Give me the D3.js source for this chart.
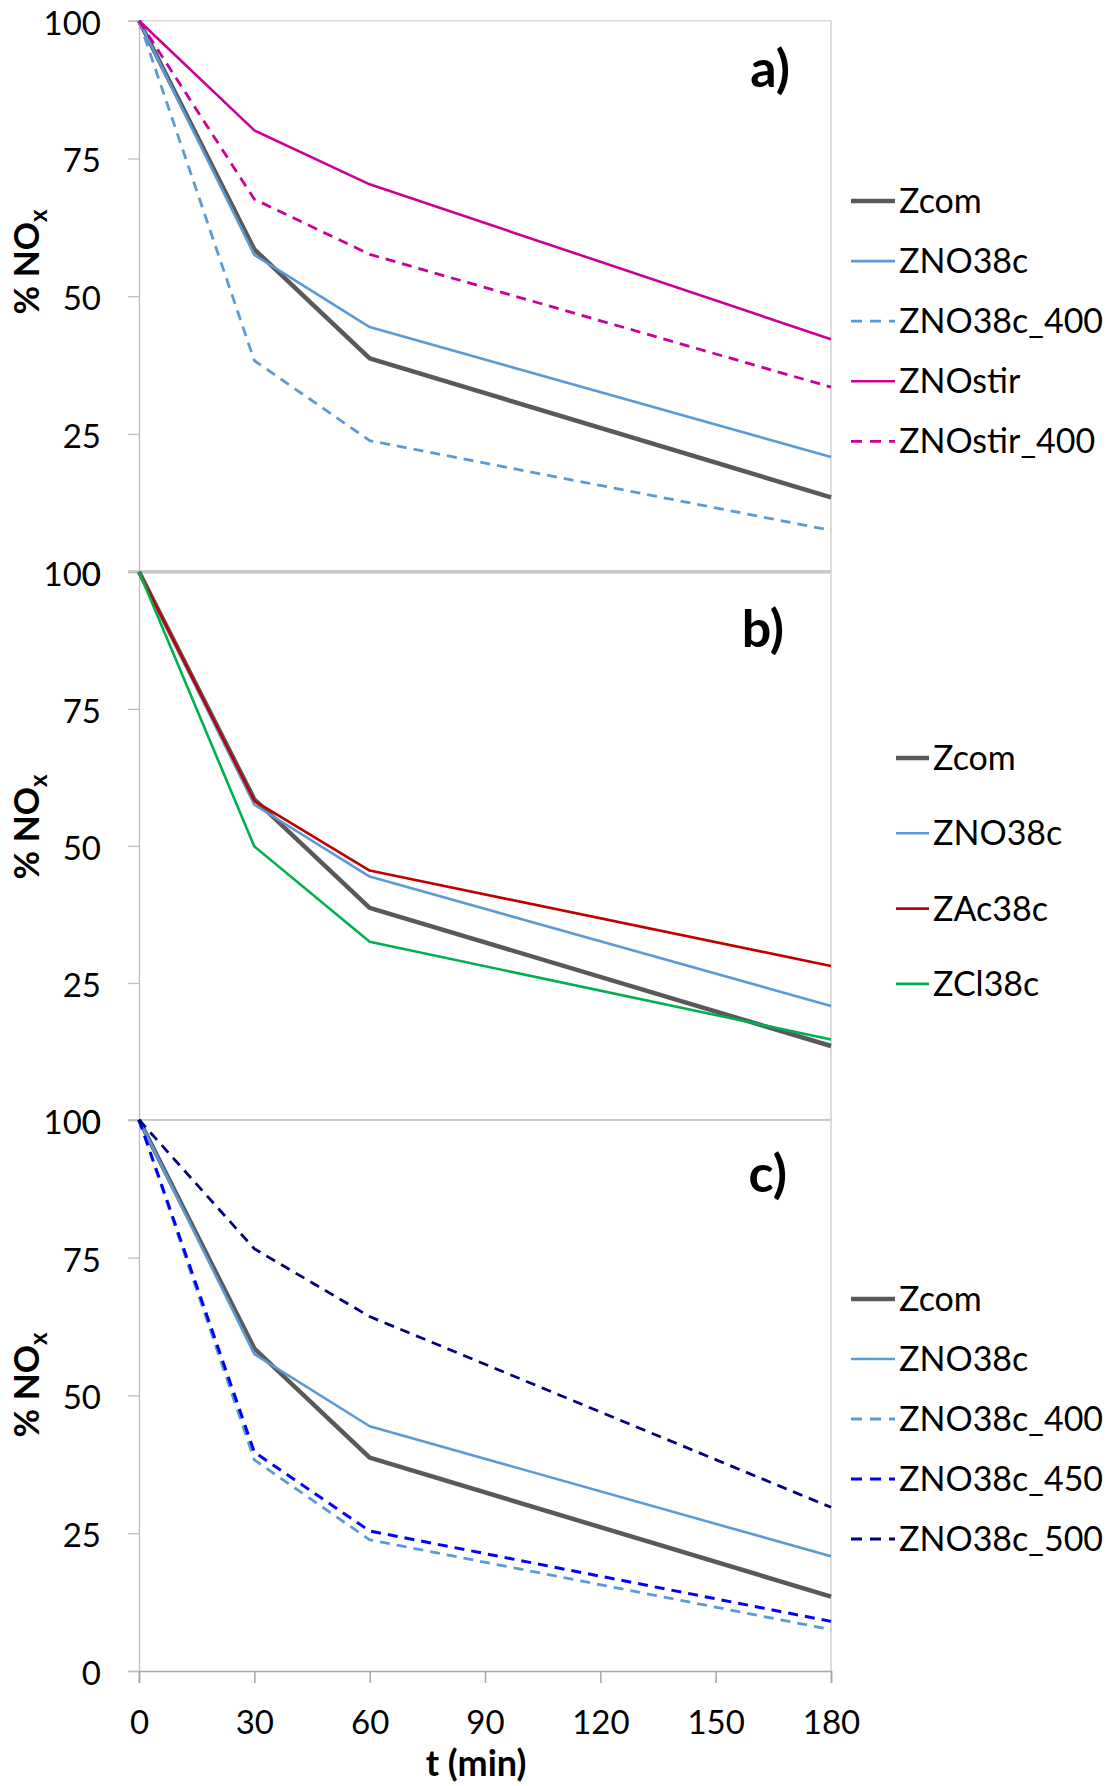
<!DOCTYPE html>
<html>
<head>
<meta charset="utf-8">
<script src="https://cdn.jsdelivr.net/npm/d3@7"></script>
<style>
  html, body { margin: 0; padding: 0; background: #fff; }
  svg { display: block; }
  text { font-family: Lato, "Open Sans", sans-serif; fill: #000; }
</style>
</head>
<body>
<script>
// ---------------- DATA ----------------
const times = [0, 30, 60, 180];
const xTicks = [0, 30, 60, 90, 120, 150, 180];
const yTicks = [0, 25, 50, 75, 100];

const zcom      = [100, 58.5, 38.7, 13.5];
const zno38c    = [100, 57.5, 44.4, 20.8];
const zno38c400 = [100, 38.3, 23.8, 7.5];
const znostir   = [100, 80.1, 70.3, 42.2];
const znostir400= [100, 67.6, 57.6, 33.5];
const zac38c    = [100, 58.2, 45.5, 28.1];
const zcl38c    = [100, 49.9, 32.5, 14.7];
const zno38c450 = [100, 39.7, 25.4, 9.0];
const zno38c500 = [100, 76.6, 64.3, 29.7];

const panelLabels = ["a)", "b)", "c)"];
const yTitle = "% NO";
const yTitleSub = "x";
const xTitle = "t (min)";

// ---------------- STYLES ----------------
const styles = {
  "Zcom":        { color: "#595959", width: 4.5, dash: null },
  "ZNO38c":      { color: "#5b9bd5", width: 2.6, dash: null },
  "ZNO38c_400":  { color: "#5b9bd5", width: 2.8, dash: "10,7" },
  "ZNOstir":     { color: "#cc0099", width: 2.6, dash: null },
  "ZNOstir_400": { color: "#cc0099", width: 2.8, dash: "10,7" },
  "ZAc38c":      { color: "#c00000", width: 2.6, dash: null },
  "ZCl38c":      { color: "#00b050", width: 2.6, dash: null },
  "ZNO38c_450":  { color: "#0000ff", width: 3.0, dash: "10,7" },
  "ZNO38c_500":  { color: "#000080", width: 2.8, dash: "10,7" }
};

const panels = [
  { label: panelLabels[0], top: 20.7, bottom: 571.7,
    series: [["Zcom", zcom], ["ZNO38c", zno38c], ["ZNO38c_400", zno38c400], ["ZNOstir", znostir], ["ZNOstir_400", znostir400]],
    legend: { x0: 851, x1: 895, tx: 899, y0: 201, dy: 60.1 },
    lab: { x: 790, y: 87 }, ytitleY: 262 },
  { label: panelLabels[1], top: 571.8, bottom: 1120,
    series: [["Zcom", zcom], ["ZNO38c", zno38c], ["ZAc38c", zac38c], ["ZCl38c", zcl38c]],
    legend: { x0: 896, x1: 929, tx: 933, y0: 758, dy: 75.3 },
    lab: { x: 784, y: 647 }, ytitleY: 827 },
  { label: panelLabels[2], top: 1119.8, bottom: 1671,
    series: [["Zcom", zcom], ["ZNO38c", zno38c], ["ZNO38c_400", zno38c400], ["ZNO38c_450", zno38c450], ["ZNO38c_500", zno38c500]],
    legend: { x0: 851, x1: 895, tx: 899, y0: 1299, dy: 60 },
    lab: { x: 787, y: 1192 }, ytitleY: 1385, xAxis: true }
];

const W = 1113, H = 1786;
const svg = d3.select("body").append("svg").attr("width", W).attr("height", H);

const x = d3.scaleLinear().domain([0, 180]).range([139, 831]);

panels.forEach((p, i) => {
  const y = d3.scaleLinear().domain([0, 100]).range([p.bottom, p.top]);
  const g = svg.append("g");

  // plot area border: top & right
  g.append("line").attr("x1", x(0)).attr("x2", x(180)).attr("y1", y(100)).attr("y2", y(100))
    .attr("stroke", i === 0 ? "#d9d9d9" : "#c8c8c8").attr("stroke-width", i === 1 ? 3 : 1.6);
  g.append("line").attr("x1", x(180)).attr("x2", x(180)).attr("y1", y(100)).attr("y2", y(0))
    .attr("stroke", "#d0d0d0").attr("stroke-width", 1.5);

  // y axis
  const ya = d3.axisLeft(y).tickValues(yTicks).tickSize(11).tickPadding(27).tickFormat(d3.format("d"));
  const yg = g.append("g").attr("transform", `translate(${x(0)},0)`).call(ya);
  yg.select(".domain").attr("stroke", "#bfbfbf").attr("stroke-width", 1.3);
  yg.selectAll(".tick line").attr("stroke", "#bfbfbf").attr("stroke-width", 1.3);
  yg.selectAll(".tick text").attr("font-size", 33).attr("dy", "0.41em")
    .attr("font-family", "Lato, 'Open Sans', sans-serif").attr("fill", "#000");

  // bottom axis line
  if (p.xAxis) {
    const xa = d3.axisBottom(x).tickValues(xTicks).tickSize(12).tickPadding(28).tickFormat(d3.format("d"));
    const xg = g.append("g").attr("transform", `translate(0,${y(0)})`).call(xa);
    xg.select(".domain").attr("stroke", "#a6a6a6").attr("stroke-width", 1.5);
    xg.selectAll(".tick line").attr("stroke", "#a6a6a6").attr("stroke-width", 1.5);
    xg.selectAll(".tick text").attr("font-size", 33).attr("dy", "0.71em")
      .attr("font-family", "Lato, 'Open Sans', sans-serif").attr("fill", "#000");
  } else {
    g.append("line").attr("x1", x(0) - 11).attr("x2", x(180)).attr("y1", y(0)).attr("y2", y(0))
      .attr("stroke", i === 0 ? "#d0d0d0" : "#c4c4c4").attr("stroke-width", i === 0 ? 3.5 : 1.4);
  }

  // series
  const line = d3.line().x((d, k) => x(times[k])).y(d => y(d));
  p.series.forEach(([name, vals]) => {
    const s = styles[name];
    g.append("path").datum(vals).attr("d", line)
      .attr("fill", "none").attr("stroke", s.color).attr("stroke-width", s.width)
      .attr("stroke-dasharray", s.dash).attr("stroke-linejoin", "round");
  });

  // legend
  p.series.forEach(([name], k) => {
    const s = styles[name];
    const ly = p.legend.y0 + k * p.legend.dy;
    g.append("line").attr("x1", p.legend.x0).attr("x2", p.legend.x1).attr("y1", ly).attr("y2", ly)
      .attr("stroke", s.color).attr("stroke-width", s.width).attr("stroke-dasharray", s.dash ? "11,8" : null);
    g.append("text").attr("x", p.legend.tx).attr("y", ly + 12).attr("font-size", 34).text(name);
  });

  // panel label
  g.append("text").attr("x", p.lab.x).attr("y", p.lab.y).attr("text-anchor", "end")
    .attr("font-size", 52).attr("font-weight", "bold").text(p.label);

  // y title
  const t = g.append("text").attr("transform", `translate(39,${p.ytitleY}) rotate(-90)`)
    .attr("text-anchor", "middle").attr("font-size", 35).attr("font-weight", "bold");
  t.append("tspan").text(yTitle);
  t.append("tspan").attr("font-size", 24).attr("dy", 8).text(yTitleSub);
});

// x title
svg.append("text").attr("x", 476).attr("y", 1776).attr("text-anchor", "middle")
  .attr("font-size", 36).attr("font-weight", "bold").text(xTitle);
</script>
</body>
</html>
